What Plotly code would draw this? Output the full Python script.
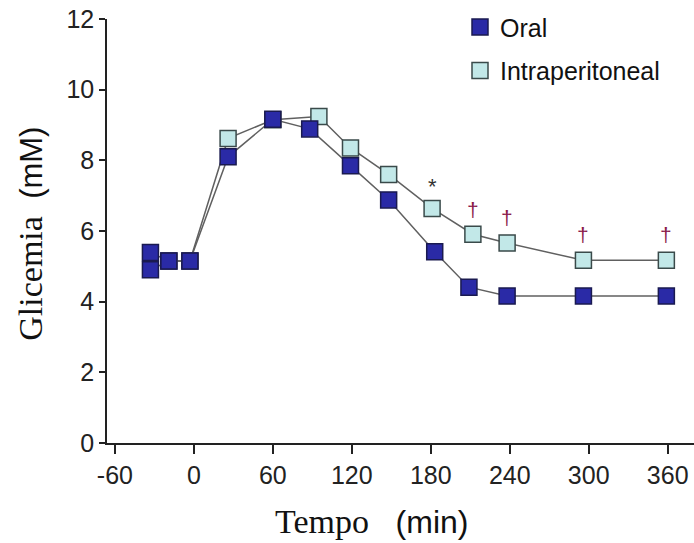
import plotly.graph_objects as go

# Data
oral_t = [-33, -19, -3, 26, 60, 88, 119, 148, 183, 209, 238, 296, 359]
oral_y = [4.90, 5.15, 5.15, 8.10, 9.16, 8.89, 7.85, 6.88, 5.41, 4.41, 4.16, 4.16, 4.16]
ip_t = [-33, -19, -3, 26, 60, 95, 119, 148, 181, 212, 238, 296, 359]
ip_y = [5.39, 5.15, 5.15, 8.62, 9.15, 9.24, 8.35, 7.60, 6.64, 5.91, 5.66, 5.17, 5.17]
baseline_n = 3  # baseline points drawn in dark colour

sig_t = [181, 212, 238, 296, 359]
sig_y = [7.25, 6.60, 6.38, 5.89, 5.89]
sig_txt = ["*", "†", "†", "†", "†"]

x_ticks = [-60, 0, 60, 120, 180, 240, 300, 360]
y_ticks = [0, 2, 4, 6, 8, 10, 12]

ORAL = "#2a2aa6"
ORAL_EDGE = "#1a1a50"
IP = "#c2e8e8"
IP_EDGE = "#3a4a4a"
LINE = "#606060"

fig = go.Figure()

ip_colors = [ORAL] * baseline_n + [IP] * (len(ip_t) - baseline_n)
ip_edges = [ORAL_EDGE] * baseline_n + [IP_EDGE] * (len(ip_t) - baseline_n)

fig.add_trace(go.Scatter(
    x=ip_t, y=ip_y, mode="lines+markers", showlegend=False,
    line=dict(color=LINE, width=1.5),
    marker=dict(symbol="square", size=16, color=ip_colors,
                line=dict(color=ip_edges, width=1.5))))
fig.add_trace(go.Scatter(
    x=oral_t, y=oral_y, mode="lines+markers", showlegend=False,
    line=dict(color=LINE, width=1.5),
    marker=dict(symbol="square", size=16, color=ORAL,
                line=dict(color=ORAL_EDGE, width=1.5))))

# legend-only traces
fig.add_trace(go.Scatter(x=[None], y=[None], mode="markers", name="Oral", legendgroup="a",
    marker=dict(symbol="square", size=18, color=ORAL, line=dict(color=ORAL_EDGE, width=1.5))))
fig.add_trace(go.Scatter(x=[None], y=[None], mode="markers", name="Intraperitoneal", legendgroup="b",
    marker=dict(symbol="square", size=18, color=IP, line=dict(color=IP_EDGE, width=1.5))))

for t, y, s in zip(sig_t, sig_y, sig_txt):
    fig.add_annotation(x=t, y=y, xref="x", yref="y", text=s, showarrow=False,
                       font=dict(family="Liberation Sans, Arial", size=22 if s == "*" else 21,
                                 color="#333333" if s == "*" else "#8a1a4a"))

fig.add_annotation(
    x=(371 - 107) / 587, y=-(522 - 443.3) / 424, xref="paper", yref="paper",
    text='<span style="font-family:Liberation Serif, Times New Roman">Tempo</span>'
         '<span style="font-family:Liberation Sans, Arial; font-size:32px">   (min)</span>',
    showarrow=False, font=dict(family="Liberation Serif", size=34, color="#111111"),
    xanchor="center", yanchor="middle")
fig.add_annotation(
    x=-(107 - 31) / 587, y=(443.3 - 234) / 424, xref="paper", yref="paper",
    text='<span style="font-family:Liberation Serif, Times New Roman">Glicemia</span>'
         '<span style="font-family:Liberation Sans, Arial; font-size:31px">  (mM)</span>',
    showarrow=False, textangle=-90,
    font=dict(family="Liberation Serif", size=34, color="#111111"),
    xanchor="center", yanchor="middle")

fig.update_layout(
    width=694, height=543,
    margin=dict(l=107, r=0, t=19, b=100),
    paper_bgcolor="white", plot_bgcolor="white",
    font=dict(family="Liberation Sans, Arial", size=24, color="#222222"),
    legend=dict(x=(460 - 107) / 587, y=1.035, xanchor="left", yanchor="top",
                bgcolor="rgba(0,0,0,0)", font=dict(size=25, color="#111111"),
                itemsizing="trace", tracegroupgap=8),
    xaxis=dict(range=[-66, 380], tickvals=x_ticks, ticktext=[str(v) for v in x_ticks],
               showline=True, linecolor="#222222", linewidth=1.5,
               ticks="outside", ticklen=9, tickcolor="#222222", tickwidth=1.5,
               showgrid=False, zeroline=False, tickfont=dict(size=25)),
    yaxis=dict(range=[0, 12], tickvals=y_ticks,
               showline=True, linecolor="#222222", linewidth=1.5,
               ticks="outside", ticklen=6, tickcolor="#222222", tickwidth=1.5,
               showgrid=False, zeroline=False, tickfont=dict(size=25)),
)

fig.write_html("out.html")
